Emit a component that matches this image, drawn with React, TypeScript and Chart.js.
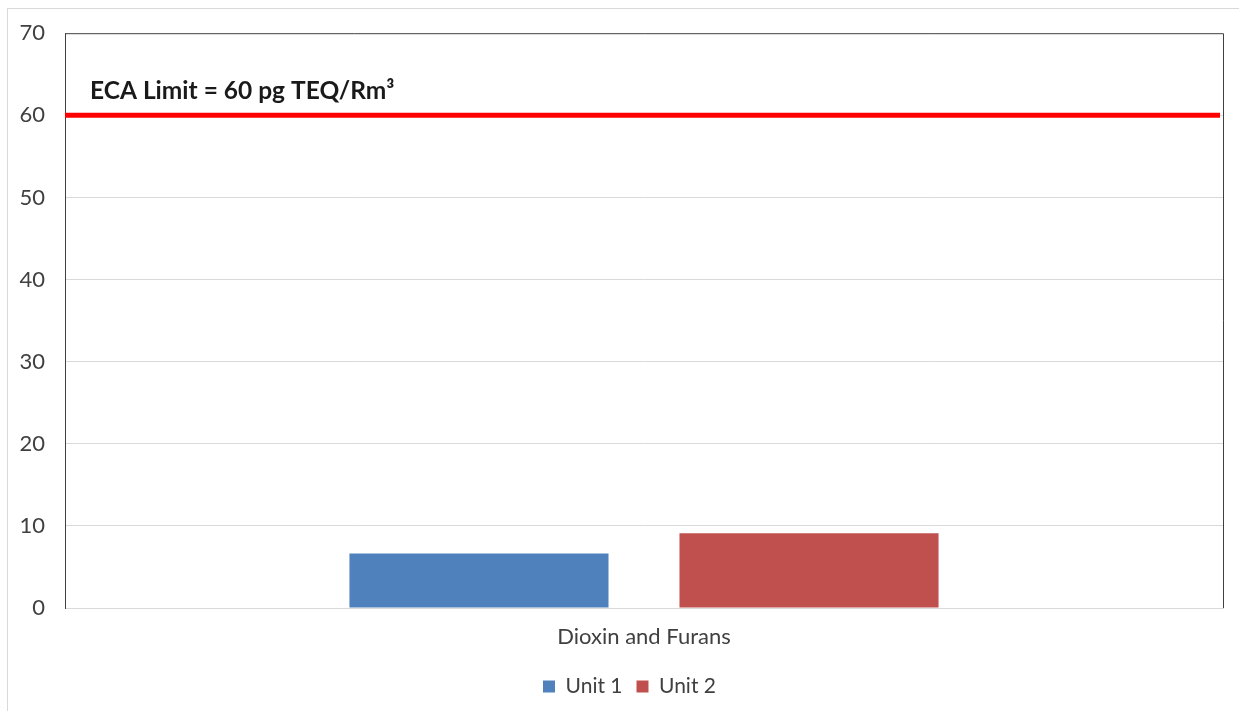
import React, { useEffect, useRef } from "react";
import { Chart, registerables } from "chart.js";

Chart.register(...registerables);

const categories = ["Dioxin and Furans"];
const seriesNames = ["Unit 1", "Unit 2"];
const unit1Values = [6.65];
const unit2Values = [9.1];
const limitValue = 60;
const limitLabel = "ECA Limit = 60 pg TEQ/Rm³";
const yMin = 0;
const yMax = 70;
const yStep = 10;

const FONT = "Lato, 'Open Sans', sans-serif";

const framePlugin = {
  id: "frame",
  afterLayout(chart: any) {
    // the reference legend is centred slightly right of the canvas centre
    if (chart.legend) chart.legend.left = 36;
  },
  afterDatasetsDraw(chart: any) {
    const { ctx, chartArea, scales } = chart;
    const y = scales.y.getPixelForValue(limitValue);
    ctx.save();
    // limit line
    ctx.strokeStyle = "#FF0000";
    ctx.lineWidth = 5;
    ctx.lineCap = "butt";
    ctx.beginPath();
    ctx.moveTo(chartArea.left, y);
    ctx.lineTo(chartArea.right - 3, y);
    ctx.stroke();
    // label
    ctx.fillStyle = "#1a1a1a";
    ctx.font = `bold 24.5px ${FONT}`;
    ctx.textBaseline = "alphabetic";
    ctx.textAlign = "left";
    ctx.fillText(limitLabel, chartArea.left + 25, y - 16);
    ctx.restore();
  },
  afterDraw(chart: any) {
    const { ctx, chartArea } = chart;
    ctx.save();
    ctx.strokeStyle = "#404040";
    ctx.lineWidth = 1;
    ctx.beginPath();
    ctx.moveTo(chartArea.left, chartArea.top + 0.5);
    ctx.lineTo(chartArea.right + 0.5, chartArea.top + 0.5);
    ctx.lineTo(chartArea.right + 0.5, chartArea.bottom);
    ctx.stroke();
    ctx.restore();
  },
};

export default function App() {
  const ref = useRef<HTMLCanvasElement | null>(null);

  useEffect(() => {
    if (!ref.current) return;
    const chart = new Chart(ref.current, {
      type: "bar",
      data: {
        labels: categories,
        datasets: [
          {
            label: seriesNames[0],
            data: unit1Values,
            backgroundColor: "#4F81BD",
            categoryPercentage: 0.57,
            barPercentage: 0.785,
          } as any,
          {
            label: seriesNames[1],
            data: unit2Values,
            backgroundColor: "#C0504D",
            categoryPercentage: 0.57,
            barPercentage: 0.785,
          } as any,
        ],
      },
      options: {
        responsive: false,
        animation: false,
        layout: { padding: { top: 32, right: 16, bottom: 4, left: 0 } },
        plugins: {
          legend: {
            position: "bottom",
            labels: {
              font: { family: FONT, size: 21 },
              color: "#404040",
              boxWidth: 12,
              boxHeight: 12,
              padding: 14,
            },
          },
          tooltip: { enabled: false },
        },
        scales: {
          x: {
            type: "category",
            grid: { display: false, drawTicks: false },
            border: { color: "#d9d9d9" },
            ticks: {
              font: { family: FONT, size: 22 },
              color: "#404040",
              padding: 16,
            },
            afterFit: (s: any) => {
              s.height = 54;
            },
          },
          y: {
            min: yMin,
            max: yMax,
            ticks: {
              stepSize: yStep,
              font: { family: FONT, size: 22 },
              color: "#404040",
              padding: 20,
            },
            grid: {
              drawTicks: false,
              color: (c: any) => (c.tick && c.tick.value === yMax ? "rgba(0,0,0,0)" : "#d9d9d9"),
            },
            border: { color: "#404040", width: 1 },
            afterFit: (s: any) => {
              s.width = 65;
            },
          },
        },
      },
      plugins: [framePlugin],
    });
    return () => chart.destroy();
  }, []);

  return (
    <div style={{ position: "absolute", left: 0, top: 0, width: 1239, height: 711, background: "#fff" }}>
      <div
        style={{
          position: "absolute",
          left: 7,
          top: 8,
          width: 1232,
          height: 703,
          borderTop: "1px solid #d9d9d9",
          borderLeft: "1px solid #d9d9d9",
          boxSizing: "border-box",
        }}
      />
      <canvas ref={ref} width={1239} height={711} style={{ position: "absolute", left: 0, top: 0 }} />
    </div>
  );
}
